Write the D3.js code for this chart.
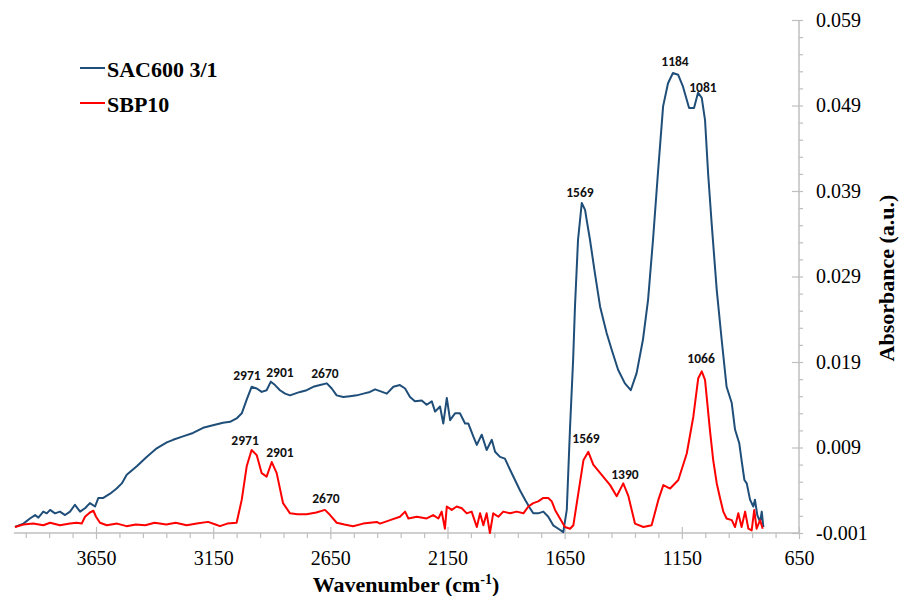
<!DOCTYPE html>
<html>
<head>
<meta charset="utf-8">
<script src="https://cdn.jsdelivr.net/npm/d3@7"></script>
<style>
  body { margin: 0; background: #fff; }
  svg { display: block; }
  .domain { display: none; }
</style>
</head>
<body>
<svg id="chart" width="899" height="596"></svg>
<script>
// [wavenumber (cm-1), absorbance (a.u.)]
let sac600 = [[3996,-0.0003],[3960,0.0001],[3932,0.0007],[3910,0.0011],[3896,0.0008],[3875,0.0015],[3860,0.0013],[3846,0.0017],[3825,0.0013],[3804,0.0015],[3782,0.0011],[3761,0.0015],[3740,0.0023],[3718,0.0015],[3697,0.0019],[3676,0.0025],[3654,0.0021],[3640,0.0031],[3619,0.0031],[3590,0.0036],[3562,0.0042],[3540,0.0048],[3519,0.0058],[3476,0.0068],[3434,0.0079],[3391,0.0089],[3348,0.0096],[3321,0.0099],[3279,0.0103],[3236,0.0107],[3193,0.0113],[3151,0.0116],[3108,0.0119],[3078,0.0120],[3050,0.0124],[3028,0.0130],[3007,0.0146],[2986,0.0161],[2964,0.0159],[2943,0.0155],[2922,0.0157],[2904,0.0167],[2886,0.0163],[2865,0.0157],[2843,0.0153],[2822,0.0151],[2801,0.0153],[2779,0.0155],[2751,0.0157],[2723,0.0161],[2694,0.0163],[2665,0.0165],[2644,0.0159],[2623,0.0151],[2595,0.0149],[2566,0.0150],[2537,0.0151],[2509,0.0153],[2481,0.0155],[2459,0.0158],[2438,0.0156],[2409,0.0153],[2381,0.0161],[2353,0.0163],[2331,0.0159],[2310,0.0149],[2289,0.0144],[2260,0.0145],[2239,0.0140],[2217,0.0144],[2203,0.0132],[2182,0.0138],[2168,0.0118],[2153,0.0148],[2139,0.0122],[2118,0.0130],[2097,0.0130],[2075,0.0118],[2061,0.0118],[2040,0.0103],[2025,0.0093],[2004,0.0105],[1983,0.0087],[1961,0.0099],[1947,0.0085],[1926,0.0079],[1905,0.0077],[1883,0.0064],[1862,0.0052],[1841,0.0040],[1819,0.0029],[1798,0.0019],[1784,0.0013],[1763,0.0013],[1741,0.0015],[1720,0.0009],[1699,-0.0001],[1677,-0.0005],[1656,-0.0009],[1641,0.0017],[1627,0.0114],[1614,0.0192],[1606,0.0255],[1593,0.0333],[1577,0.0376],[1563,0.0368],[1556,0.0356],[1542,0.0333],[1521,0.0294],[1499,0.0255],[1471,0.0224],[1449,0.0204],[1422,0.0181],[1393,0.0165],[1368,0.0157],[1343,0.0177],[1316,0.0216],[1294,0.0263],[1273,0.0333],[1252,0.0411],[1230,0.0489],[1209,0.0516],[1188,0.0528],[1166,0.0526],[1145,0.0512],[1119,0.0487],[1098,0.0487],[1081,0.0505],[1065,0.0499],[1051,0.0473],[1038,0.0411],[1023,0.0353],[1001,0.0274],[980,0.0216],[959,0.0161],[937,0.0142],[923,0.0111],[905,0.0095],[895,0.0075],[883,0.0052],[873,0.0048],[859,0.0029],[845,0.0021],[838,0.0029],[828,0.0011],[816,0.0003],[809,0.0015],[802,-0.0003]]

let sbp10 = [[3996,-0.0003],[3960,0.0000],[3918,0.0001],[3875,-0.0001],[3846,0.0002],[3804,-0.0001],[3761,0.0001],[3732,0.0002],[3711,0.0001],[3697,0.0009],[3676,0.0014],[3661,0.0016],[3650,0.0009],[3633,0.0002],[3604,-0.0001],[3560,0.0001],[3520,-0.0002],[3480,0.0000],[3440,-0.0001],[3400,0.0002],[3350,0.0000],[3310,0.0002],[3263,-0.0001],[3220,0.0001],[3172,0.0003],[3140,0.0000],[3121,-0.0002],[3090,0.0001],[3050,0.0002],[3028,0.0029],[3007,0.0068],[2986,0.0087],[2964,0.0081],[2943,0.0060],[2922,0.0056],[2900,0.0073],[2879,0.0060],[2852,0.0025],[2822,0.0013],[2790,0.0012],[2751,0.0012],[2710,0.0014],[2673,0.0017],[2651,0.0011],[2623,0.0002],[2590,0.0000],[2553,-0.0002],[2510,0.0001],[2452,0.0003],[2438,0.0001],[2395,0.0005],[2353,0.0009],[2331,0.0015],[2317,0.0007],[2281,0.0009],[2239,0.0007],[2211,0.0011],[2189,0.0007],[2175,0.0015],[2161,-0.0005],[2153,0.0021],[2132,0.0017],[2111,0.0021],[2089,0.0019],[2068,0.0013],[2047,0.0015],[2025,-0.0003],[2011,0.0013],[1997,-0.0001],[1983,0.0013],[1969,-0.0010],[1955,0.0013],[1933,0.0009],[1912,0.0015],[1883,0.0013],[1855,0.0015],[1826,0.0013],[1805,0.0021],[1784,0.0025],[1763,0.0027],[1741,0.0031],[1720,0.0031],[1705,0.0027],[1691,0.0017],[1670,0.0007],[1649,-0.0003],[1627,-0.0005],[1613,-0.0001],[1592,0.0036],[1570,0.0075],[1549,0.0085],[1528,0.0070],[1492,0.0058],[1456,0.0046],[1428,0.0033],[1400,0.0048],[1378,0.0033],[1350,0.0001],[1314,-0.0003],[1279,-0.0001],[1250,0.0029],[1229,0.0046],[1200,0.0042],[1165,0.0052],[1129,0.0083],[1101,0.0126],[1080,0.0171],[1065,0.0179],[1051,0.0169],[1030,0.0110],[1016,0.0075],[1001,0.0048],[987,0.0031],[973,0.0015],[959,0.0007],[937,0.0005],[923,-0.0003],[909,0.0013],[895,-0.0003],[880,0.0015],[866,-0.0005],[852,-0.0007],[841,0.0017],[831,-0.0005],[816,0.0005],[805,-0.0005]]

let series_names = ["SAC600 3/1", "SBP10"]
let series_colors = ["#1f4e79", "#ff0000"]

let x_major = [3650, 3150, 2650, 2150, 1650, 1150, 650]
let x_minor = [3950, 3850, 3750, 3550, 3450, 3350, 3250, 3050, 2950, 2850, 2750, 2550, 2450, 2350, 2250, 2050, 1950, 1850, 1750, 1550, 1450, 1350, 1250, 1050, 950, 850, 750]
let y_major = [-0.001, 0.009, 0.019, 0.029, 0.039, 0.049, 0.059]
let y_minor = [0.001, 0.003, 0.005, 0.007, 0.011, 0.013, 0.015, 0.017, 0.021, 0.023, 0.025, 0.027, 0.031, 0.033, 0.035, 0.037, 0.041, 0.043, 0.045, 0.047, 0.051, 0.053, 0.055, 0.057]

// peak labels: [text, wavenumber, absorbance where the label sits]
let peak_labels = [
    ["2971", 3006, 0.0174],
    ["2901", 2865, 0.0178],
    ["2670", 2673, 0.0177],
    ["1569", 1585, 0.0388],
    ["1184", 1179, 0.0541],
    ["1081", 1060, 0.0511],
    ["2971", 3014, 0.0098],
    ["2901", 2865, 0.0084],
    ["2670", 2669, 0.0030],
    ["1569", 1559, 0.0100],
    ["1390", 1393, 0.0059],
    ["1066", 1068, 0.0194]
]

let svg = d3.select('#chart')
let axis_color = '#bfbfbf'
let serif = '"Liberation Serif", "Times New Roman", serif'

let x = d3.scaleLinear().domain([4000, 650]).range([14, 799])
let y = d3.scaleLinear().domain([-0.001, 0.059]).range([533, 20])

// x axis
let gx = svg.append('g').attr('transform', `translate(0,${y(-0.001)})`)
gx.append('line')
    .attr('x1', x(4000)).attr('x2', x(650))
    .attr('stroke', axis_color).attr('stroke-width', 1.5)

let gx_minor = gx.append('g').call(d3.axisBottom(x).tickValues(x_minor).tickSize(5).tickFormat(''))
gx_minor.selectAll('.tick line').attr('stroke', axis_color).attr('stroke-width', 1.2)

let gx_major = gx.append('g').call(d3.axisBottom(x).tickValues(x_major).tickSize(6).tickPadding(12).tickFormat(d3.format('d')))
gx_major.selectAll('.tick line').attr('y1', -6).attr('stroke', axis_color).attr('stroke-width', 1.2)
gx_major.selectAll('.tick text')
    .attr('fill', '#000')
    .style('font-family', serif)
    .style('font-size', '20px')

// y axis on the right
let gy = svg.append('g').attr('transform', `translate(${x(650)},0)`)
gy.append('line')
    .attr('y1', y(-0.001)).attr('y2', y(0.059))
    .attr('stroke', axis_color).attr('stroke-width', 1.5)

let gy_minor = gy.append('g').call(d3.axisRight(y).tickValues(y_minor).tickSize(4).tickFormat(''))
gy_minor.selectAll('.tick line').attr('stroke', axis_color).attr('stroke-width', 1.2)

let fmt_y = d => d3.format('.3f')(d).replace('\u2212', '-')
let gy_major = gy.append('g').call(d3.axisRight(y).tickValues(y_major).tickSize(4).tickPadding(13).tickFormat(fmt_y))
gy_major.selectAll('.tick line').attr('x1', -7).attr('stroke', axis_color).attr('stroke-width', 1.2)
gy_major.selectAll('.tick text')
    .attr('fill', '#000')
    .style('font-family', serif)
    .style('font-size', '20px')

// axis titles
let x_title = svg.append('text')
    .attr('x', 406).attr('y', 592)
    .attr('text-anchor', 'middle')
    .style('font-family', serif)
    .style('font-size', '22px').style('font-weight', 'bold')
x_title.append('tspan').text('Wavenumber (cm')
x_title.append('tspan').text('-1').attr('dy', -8).style('font-size', '14px')
x_title.append('tspan').text(')').attr('dy', 8)

svg.append('text')
    .attr('transform', 'translate(886,278) rotate(-90)')
    .attr('text-anchor', 'middle')
    .attr('dominant-baseline', 'central')
    .style('font-family', serif)
    .style('font-size', '22px').style('font-weight', 'bold')
    .text('Absorbance (a.u.)')

// spectra
let line = d3.line().x(d => x(d[0])).y(d => y(d[1]))

svg.append('g').selectAll('path')
    .data([sac600, sbp10])
    .join('path')
        .attr('d', line)
        .attr('fill', 'none')
        .attr('stroke', (d, i) => series_colors[i])
        .attr('stroke-width', 2)
        .attr('stroke-linejoin', 'round')

// peak labels
svg.append('g').selectAll('text')
    .data(peak_labels)
    .join('text')
        .attr('x', d => x(d[1]))
        .attr('y', d => y(d[2]))
        .attr('text-anchor', 'middle')
        .attr('dominant-baseline', 'central')
        .style('font-family', 'Carlito, Calibri, "Open Sans", sans-serif')
        .style('font-size', '13.5px').style('font-weight', 600)
        .attr('fill', '#111')
        .text(d => d[0])

// legend
let legend = svg.append('g').selectAll('g')
    .data(series_names)
    .join('g')
        .attr('transform', (d, i) => `translate(80,${68 + i * 35})`)

legend.append('line')
    .attr('x1', 0).attr('x2', 25)
    .attr('stroke', (d, i) => series_colors[i])
    .attr('stroke-width', 2)

legend.append('text')
    .attr('x', 27).attr('y', 9)
    .style('font-family', serif)
    .style('font-size', '22px').style('font-weight', 'bold')
    .text(d => d)
</script>
</body>
</html>
